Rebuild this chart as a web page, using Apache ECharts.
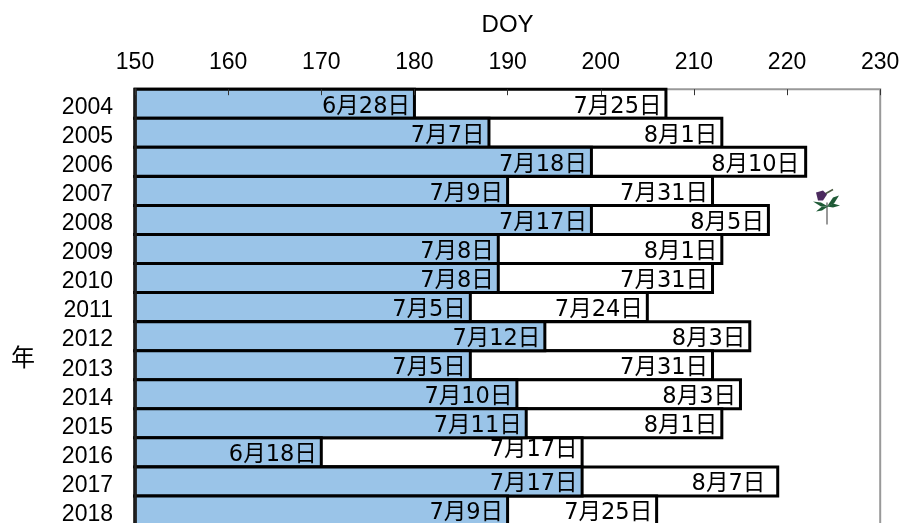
<!DOCTYPE html>
<html>
<head>
<meta charset="utf-8">
<style>html,body{margin:0;padding:0;background:#fff}#chart{width:901px;height:523px}</style>
<script src="https://cdn.jsdelivr.net/npm/echarts@6/dist/echarts.min.js"></script>
</head>
<body>
<div id="chart"></div>
<script>
// Flowering period per year, as day of year (DOY), with the calendar dates shown on the bars
const years = ['2004','2005','2006','2007','2008','2009','2010','2011','2012','2013','2014','2015','2016','2017','2018'];
const startDoy = [180,188,199,190,199,189,189,186,194,186,191,192,170,198,190];
const endDoy = [207,213,222,212,218,213,212,205,216,212,215,213,198,219,206];
const startDates = ['6月28日','7月7日','7月18日','7月9日','7月17日','7月8日','7月8日','7月5日','7月12日','7月5日','7月10日','7月11日','6月18日','7月17日','7月9日'];
const endDates = ['7月25日','8月1日','8月10日','7月31日','8月5日','8月1日','7月31日','7月24日','8月3日','7月31日','8月3日','8月1日','7月17日','8月7日','7月25日'];

const latinFont = '"Liberation Sans", Arial, sans-serif';
const labelFont = '"DejaVu Sans", "Noto Sans CJK JP", sans-serif';

const barLabel = {
  show: true,
  position: 'insideRight',
  distance: 6,
  offset: [0, 3],
  color: '#000',
  fontFamily: labelFont,
  fontSize: 22.5
};

// Each bar carries its date label; a couple of end labels sit slightly off the default spot
const barPoints = (values, dates, tweaks) => values.map((v, i) => ({
  value: v,
  label: Object.assign({}, barLabel, {formatter: dates[i]}, tweaks[years[i]] || {})
}));

const endLabelTweaks = {
  '2016': {offset: [0, -2]},
  '2017': {distance: 14},
  '2006': {distance: 8}
};

const chart = echarts.init(document.getElementById('chart'), null, {renderer: 'canvas'});
chart.setOption({
  animation: false,
  backgroundColor: '#fff',
  title: {
    text: '年',
    left: 6,
    top: 340,
    textStyle: {fontFamily: '"Noto Sans CJK JP", sans-serif', fontSize: 24, fontWeight: 'normal', color: '#000'}
  },
  grid: {
    left: 135, top: 89.2, width: 745.2, height: 435.8,
    outerBoundsMode: 'none',
    show: true, borderColor: '#999', borderWidth: 2, backgroundColor: 'transparent'
  },
  xAxis: [
    {
      type: 'value',
      position: 'top',
      min: 150,
      max: 230,
      interval: 10,
      name: 'DOY',
      nameLocation: 'middle',
      nameGap: 52,
      nameTextStyle: {fontFamily: latinFont, fontSize: 24, color: '#000'},
      axisLine: {show: false},
      axisTick: {show: true, inside: true, length: 6, lineStyle: {color: '#333', width: 1}},
      axisLabel: {fontFamily: latinFont, fontSize: 23, color: '#000', margin: 15},
      splitLine: {show: false},
      z: 5
    },
    {
      // Bars are inset by half their stroke; this companion scale puts each stroke's centre on its value
      type: 'value',
      position: 'top',
      show: false,
      min: 149.84,
      max: 229.84,
      startValue: 149.68,
      splitLine: {show: false}
    }
  ],
  yAxis: {
    type: 'category',
    inverse: true,
    data: years,
    axisLine: {show: true, onZero: false, lineStyle: {color: '#222', width: 2.5}},
    axisTick: {show: false},
    axisLabel: {
      interval: 0,
      margin: 22,
      formatter: '{y|{value}}',
      rich: {y: {fontFamily: latinFont, fontSize: 23, color: '#000', padding: [8, 0, 0, 0]}}
    },
    z: 5
  },
  series: [
    {
      name: '終了',
      type: 'bar',
      xAxisIndex: 1,
      barWidth: 32,
      barGap: '-100%',
      clip: false,
      data: barPoints(endDoy, endDates, endLabelTweaks),
      itemStyle: {color: '#fff', borderColor: '#000', borderWidth: 3},
      z: 2
    },
    {
      name: '開始',
      type: 'bar',
      xAxisIndex: 1,
      barWidth: 32,
      barGap: '-100%',
      clip: false,
      data: barPoints(startDoy, startDates, {}),
      itemStyle: {color: '#9ac4e8', borderColor: '#000', borderWidth: 3},
      z: 3
    }
  ],
  // Small flower ornament beside the bars
  graphic: [{
    type: 'group',
    left: 813,
    top: 187,
    children: [
      {type: 'line', shape: {x1: 14, y1: 14, x2: 14, y2: 36}, style: {stroke: '#777', lineWidth: 1.5}},
      {type: 'line', shape: {x1: 11, y1: 6, x2: 20, y2: 1}, style: {stroke: '#4a5a40', lineWidth: 1.5}},
      {type: 'polygon', shape: {points: [[3,4],[10,2],[14,6],[10,12],[5,12]]}, style: {fill: '#4b2a5e'}},
      {type: 'polygon', shape: {points: [[0,13],[8,14],[15,18],[8,18]]}, style: {fill: '#1f5a36'}},
      {type: 'polygon', shape: {points: [[3,23],[9,18],[15,18],[9,22]]}, style: {fill: '#1f5a36'}},
      {type: 'polygon', shape: {points: [[26,7],[20,9],[14,18],[21,15]]}, style: {fill: '#1f5a36'}},
      {type: 'polygon', shape: {points: [[27,17],[20,15],[14,18],[20,19]]}, style: {fill: '#1f5a36'}}
    ]
  }]
});
</script>
</body>
</html>
